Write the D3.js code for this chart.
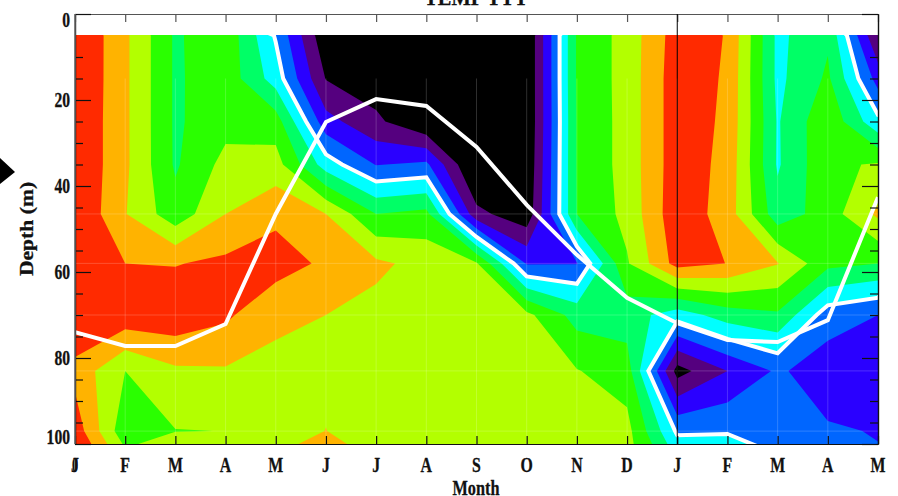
<!DOCTYPE html>
<html>
<head>
<meta charset="utf-8">
<script src="https://cdn.jsdelivr.net/npm/d3@7"></script>
<style>
    body { margin: 0; background: #fff; }
    svg { display: block; }
    text { font-family: "Liberation Serif", serif; font-weight: bold; fill: #111; stroke: #111; stroke-width: 0.3; }
</style>
</head>
<body>
<div id="chart"></div>
<script>
const months = ["J", "F", "M", "A", "M", "J", "J", "A", "S", "O", "N", "D", "J", "F", "M", "A", "M"];
const depths = [5, 15, 25, 35, 46.5, 58, 70, 83, 97, 109];
const depthLabels = [0, 20, 40, 60, 80, 100];
const minorDepths = [10, 15, 25, 30, 35, 45, 50, 55, 65, 70, 75, 85, 90, 95];

// one row per depth level, one value per month
const row05 = [10.06, 8.2, 5.85, 6.73, 3.9, 0.2, -0.5, -1, -1, 0, 6.1, 7.4, 9.5, 8.95, 4.75, 5.85, 1];
const row15 = [10.05, 8.2, 5.85, 6.63, 4.53, 0.95, 0.4, -0.9, -1, 0, 6.1, 7.4, 9.6, 8.87, 4.75, 6.17, 2.6];
const row25 = [10, 8.2, 5.85, 6.65, 6.49, 2.37, 1.22, 0.02, -1, 0, 6.05, 7.4, 9.6, 8.8, 4.9, 6.8, 4.25];
const row35 = [10, 8.2, 5.87, 7.32, 7.42, 4.5, 2.95, 3.2, -0.3, 0.1, 6.05, 7.4, 9.6, 8.7, 4.88, 6.8, 7.1];
const row46 = [10, 8.05, 6.37, 8, 8.75, 8, 6, 6.3, 1.3, 0.3, 6, 7.3, 9.7, 8.53, 5.4, 6.5, 8.2];
const row58 = [10.2, 9, 8.95, 9.22, 9.5, 8.8, 8.2, 7.67, 7.1, 2.9, 2.95, 6.9, 9.4, 8.98, 8.05, 6.28, 6];
const row70 = [10, 9.68, 9.7, 9.2, 8.13, 8, 7.7, 7.5, 7.4, 7.25, 5.6, 5.5, 4.45, 5.5, 5.85, 3.47, 3];
const row83 = [8.67, 7, 7.83, 7.9, 7.84, 7.7, 7.5, 7.4, 7.4, 7.5, 7.05, 6.5, 0.6, 2, 3.15, 2.45, 2.4];
const row97 = [9.6, 6.3, 6.97, 7.01, 7.3, 8.02, 7.2, 7.4, 7.4, 7.5, 7.6, 7.33, 3.85, 3.9, 3.4, 3.11, 2.95];
const row109 = [10.9, 8.4, 9.35, 7.7, 8.8, 9.6, 8.5, 7.3, 7.3, 7.4, 7.6, 7.4, 5.75, 5.75, 4.72, 3.3, 3.2];

const mixedLayer = [74, 77.2, 77.2, 72.1, 46.5, 25.1, 19.8, 21.4, 30.9, 44.4, 56, 66, 71.9, 75.8, 76.3, 71.2, 42.6];

const levels = [1, 2, 3, 4, 5, 6, 7, 8, 9];
const bandColors = ["#55007f", "#2a00ff", "#0066ff", "#00ffff", "#00ff66", "#2aff00", "#b3ff00", "#ffb300", "#ff2a00"];

const width = 898;
const height = 496;
const plotLeft = 75, plotRight = 878, plotTop = 14, plotBottom = 444, fieldTop = 35;

const svg = d3.select("#chart").append("svg")
    .attr("width", width)
    .attr("height", height);

const x = d3.scaleLinear().domain([0, months.length - 1]).range([plotLeft, plotRight]);
const y = d3.scaleLinear().domain([0, 100]).range([plotTop, plotBottom]);
const depthAt = d3.scaleLinear().domain(depths.map((d, i) => i)).range(depths);

svg.append("clipPath").attr("id", "field")
    .append("rect")
    .attr("x", plotLeft).attr("y", fieldTop)
    .attr("width", plotRight - plotLeft).attr("height", plotBottom - fieldTop);

const grid = [row05, row15, row25, row35, row46, row58, row70, row83, row97, row109];

const contours = d3.contours()
    .size([months.length, depths.length])
    .thresholds(levels)(grid.flat());

// d3.contours puts samples at cell centres, hence the half cell
const path = d3.geoPath(d3.geoTransform({
    point(cx, cy) {
        this.stream.point(x(cx - 0.5), y(depthAt(cy - 0.5)));
    }
}));

const field = svg.append("g").attr("clip-path", "url(#field)");

field.append("rect")
    .attr("x", plotLeft).attr("y", fieldTop)
    .attr("width", plotRight - plotLeft).attr("height", plotBottom - fieldTop)
    .attr("fill", "#000");

field.selectAll("path.band")
    .data(contours)
    .enter()
    .append("path")
    .attr("class", "band")
    .attr("d", path)
    .attr("fill", (d, i) => bandColors[i]);

// faint seams of the original fill
field.selectAll("line.col")
    .data(months.slice(1, -1))
    .enter()
    .append("line")
    .attr("class", "col")
    .attr("x1", (d, i) => x(i + 1)).attr("x2", (d, i) => x(i + 1))
    .attr("y1", y(depths[1])).attr("y2", plotBottom)
    .attr("stroke", "#fff").attr("stroke-opacity", 0.18);

field.selectAll("line.row")
    .data(depths.slice(4, 9))
    .enter()
    .append("line")
    .attr("class", "row")
    .attr("x1", plotLeft).attr("x2", plotRight)
    .attr("y1", d => y(d)).attr("y2", d => y(d))
    .attr("stroke", "#fff").attr("stroke-opacity", 0.18);

field.append("path")
    .attr("d", path(contours[levels.indexOf(4)]))
    .attr("fill", "none")
    .attr("stroke", "#fff")
    .attr("stroke-width", 4);

const mldLine = d3.line()
    .x((d, i) => x(i))
    .y(d => y(d));

field.append("path")
    .attr("d", mldLine(mixedLayer))
    .attr("fill", "none")
    .attr("stroke", "#fff")
    .attr("stroke-width", 4);

// axes, ticks point inwards on all four sides
const monthIdx = months.map((d, i) => i);
const addAxis = (axis, tx, ty, color) => {
    const g = svg.append("g")
        .attr("transform", `translate(${tx},${ty})`)
        .call(axis.tickFormat("").tickSizeOuter(0));
    g.selectAll("path,line").attr("stroke", color).attr("stroke-width", 1.2);
    return g;
};

addAxis(d3.axisTop(x).tickValues(monthIdx).tickSize(-8), 0, plotTop, "#555");
addAxis(d3.axisBottom(x).tickValues(monthIdx).tickSize(-8), 0, plotBottom, "#111");
addAxis(d3.axisLeft(y).tickValues(depthLabels).tickSize(-16), plotLeft, 0, "#111");
addAxis(d3.axisLeft(y).tickValues(minorDepths).tickSize(-8), plotLeft, 0, "#111");
addAxis(d3.axisRight(y).tickValues(depthLabels).tickSize(-16), plotRight, 0, "#111");
addAxis(d3.axisRight(y).tickValues(minorDepths).tickSize(-8), plotRight, 0, "#111");
svg.append("path").attr("d", `M${plotLeft},${plotTop}V${plotBottom}`).attr("stroke", "#666").attr("stroke-width", 1.5);

svg.append("line")
    .attr("x1", x(12)).attr("x2", x(12))
    .attr("y1", plotTop).attr("y2", plotBottom)
    .attr("stroke", "#000");

// the reference text is narrow and tall, so squeeze it horizontally
const label = (txt, px, py, size, sx, anchor) => svg.append("text")
    .attr("transform", `translate(${px},${py}) scale(${sx},1)`)
    .attr("font-size", size)
    .attr("text-anchor", anchor)
    .text(txt);

depthLabels.forEach(d => {
    const base = d === 0 ? y(d) + 13 : d === 100 ? y(d) : y(d) + 6.5;
    label(d, 70, base, 20, 0.78, "end");
});

months.forEach((m, i) => label(m, x(i), 472, 22, 0.72, "middle"));
label("0", x(0), 472, 22, 0.55, "middle");

label("Month", 476, 495, 22, 0.74, "middle");
label("TEMP TTT", 476, 5, 22, 0.93, "middle");

svg.append("text")
    .attr("transform", "translate(33,229) rotate(-90) scale(1.2,1)")
    .attr("font-size", 18)
    .attr("text-anchor", "middle")
    .text("Depth (m)");

// cut-off marker at the left edge
svg.append("path")
    .attr("d", "M0,158L15,172L0,184Z")
    .attr("fill", "#000");
</script>
</body>
</html>
